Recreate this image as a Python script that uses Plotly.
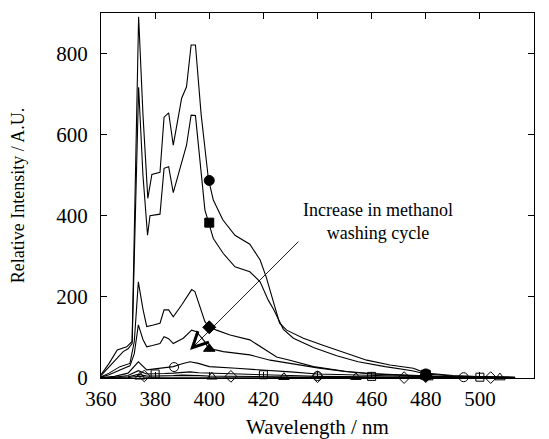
import plotly.graph_objects as go

# ---- data ----
wl1 = [360, 363, 366, 369.5, 371.5, 373.9, 375.5, 377.3, 378.8, 381.8, 383.3, 385, 386.7, 389.8, 391.6,
       393.3, 394.9, 397, 399.7, 401.5, 405, 409.5, 415, 418.8, 421, 423.5, 426, 428.6, 434.8, 442,
       450.8, 458.2, 466.8, 475.4, 480, 490, 500, 513]
int1 = [8, 36, 69, 77, 90, 891, 650, 443, 502, 507, 643, 654, 574, 690, 718,
        821, 821, 650, 490, 439, 390, 352, 330, 291, 250, 190, 135, 118, 98, 81,
        61, 44, 32, 24, 12, 6, 3, 2]

wl2 = [360, 363, 366, 368.2, 370, 371.5, 373.9, 375.5, 377.2, 378.1, 381.8, 383.3, 385, 386.7, 391.6,
       393.3, 394.9, 398.4, 399.7, 401.5, 405.2, 409.5, 415, 418.8, 421.8, 423.7, 427.4, 431.1, 438.5,
       447.1, 455, 465, 475, 480, 490, 500, 513]
int2 = [6, 28, 50, 65, 72, 85, 717, 500, 352, 400, 404, 517, 521, 457, 574,
        648, 647, 414, 385, 344, 307, 274, 262, 237, 192, 170, 120, 98, 75,
        55, 40, 28, 18, 10, 5, 3, 2]

wl3 = [360, 363, 367, 370.7, 372.3, 373.8, 375.5, 376.9, 379, 381.8, 383.3, 385, 386.7, 389.8, 393.5,
       394.7, 398.4, 399.7, 402.7, 407.7, 415, 421.2, 424.9, 429.8, 438.5, 450.8, 460, 470, 480, 490,
       500, 513]
int3 = [3, 12, 28, 36, 90, 237, 170, 127, 130, 135, 168, 168, 151, 180, 218,
        213, 139, 128, 118, 106, 94, 69, 52, 44, 28, 16, 11, 8, 5, 3,
        2, 1]

wl4 = [360, 363, 367, 370.7, 372.3, 373.8, 375.5, 376.9, 379, 381.8, 383.3, 385, 386.7, 390.4, 393.5,
       395.3, 398.4, 399.7, 405.2, 415, 422.5, 429.8, 440, 450, 460, 470, 480, 490, 500, 513]
int4 = [2, 8, 20, 30, 60, 131, 95, 77, 80, 85, 102, 97, 85, 98, 118,
        114, 89, 73, 65, 57, 44, 36, 25, 16, 10, 7, 4, 3, 2, 1]

wl_low = [360, 365, 370, 373.8, 376.9, 380, 383.5, 386.7, 390, 392.9, 396, 400, 410, 420, 430, 440,
          460, 480, 500, 513]
int5 = [1, 4, 12, 40, 20, 22, 25, 28, 35, 40, 36, 28, 24, 20, 15, 10, 6, 3, 2, 1]
int6 = [0, 2, 6, 18, 10, 10, 11, 12, 14, 15, 13, 12, 10, 8, 6, 4, 3, 2, 1, 0]
int7 = [0, 1, 3, 9, 5, 5, 5, 6, 7, 7, 6, 5, 4, 3, 3, 2, 1, 1, 0, 0]
int8 = [0, 0, 1, 4, 2, 2, 2, 2, 3, 3, 3, 2, 2, 2, 1, 1, 1, 0, 0, 0]

# marker positions (wavelength, intensity)
mk_circle_x, mk_circle_y = [400, 480], [487, 10]
mk_square_x, mk_square_y = [400, 480], [383, 8]
mk_diamond_x, mk_diamond_y = [400, 480], [125, 5]
mk_triangle_x, mk_triangle_y = [400, 480], [72, 4]
mk_ocircle_x, mk_ocircle_y = [387, 440, 494], [27, 5, 2]
mk_osquare_x, mk_osquare_y = [380, 420, 460, 500], [10, 8, 4, 2]
mk_odiamond_x, mk_odiamond_y = [376, 408, 440, 472, 504], [5, 4, 3, 1, 1]
mk_otriangle_x, mk_otriangle_y = [374.4, 401, 427.6, 454.2, 480.8, 507.4], [3, 3, 2, 2, 1, 1]

x_ticks = [360, 380, 400, 420, 440, 460, 480, 500, 520]
y_ticks = [0, 200, 400, 600, 800]

FONT = "Liberation Serif"

fig = go.Figure()
lines = [(wl1, int1), (wl2, int2), (wl3, int3), (wl4, int4),
         (wl_low, int5), (wl_low, int6), (wl_low, int7), (wl_low, int8)]
for xs, ys in lines:
    fig.add_trace(go.Scatter(x=xs, y=ys, mode="lines",
                             line=dict(color="black", width=1.1), showlegend=False))

markers = [
    (mk_circle_x, mk_circle_y, "circle", 10),
    (mk_square_x, mk_square_y, "square", 9),
    (mk_diamond_x, mk_diamond_y, "diamond", 10),
    (mk_triangle_x, mk_triangle_y, "triangle-up", 10),
    (mk_ocircle_x, mk_ocircle_y, "circle-open", 9),
    (mk_osquare_x, mk_osquare_y, "square-open", 8),
    (mk_odiamond_x, mk_odiamond_y, "diamond-open", 9),
    (mk_otriangle_x, mk_otriangle_y, "triangle-up-open", 9),
]
for xs, ys, sym, sz in markers:
    fig.add_trace(go.Scatter(x=xs, y=ys, mode="markers",
                             marker=dict(symbol=sym, size=sz, color="black",
                                         line=dict(color="black", width=1)),
                             showlegend=False, cliponaxis=False))

fig.add_annotation(x=392.9, y=69, ax=433.5, ay=340, xref="x", yref="y",
                   axref="x", ayref="y", showarrow=True, arrowhead=5,
                   arrowsize=3.4, arrowwidth=0.9, arrowcolor="black", text="")
fig.add_annotation(x=462.4, y=387, xref="x", yref="y", showarrow=False,
                   text="Increase in methanol<br>washing cycle",
                   font=dict(family=FONT, size=18, color="black"), align="center")

axis_common = dict(showline=True, linecolor="black", linewidth=1, mirror="ticks",
                   ticks="inside", ticklen=6, tickcolor="black", showgrid=False,
                   zeroline=False, automargin=False,
                   tickfont=dict(family=FONT, size=21, color="black"))
fig.update_xaxes(range=[360, 520], tickvals=x_ticks, ticklabelstandoff=2,
                 title=dict(text="Wavelength / nm", font=dict(family=FONT, size=21, color="black"),
                            standoff=12), **axis_common)
fig.update_yaxes(range=[0, 900], tickvals=y_ticks, ticklabelstandoff=8,
                 title=dict(text="Relative Intensity / A.U.", font=dict(family=FONT, size=18, color="black"),
                            standoff=26), **axis_common)
fig.update_layout(width=549, height=439, margin=dict(l=101, r=15, t=13, b=61),
                  plot_bgcolor="white", paper_bgcolor="white")
fig.write_html("out.html", config={"displayModeBar": False},
               post_script="document.body.style.margin='0';")
